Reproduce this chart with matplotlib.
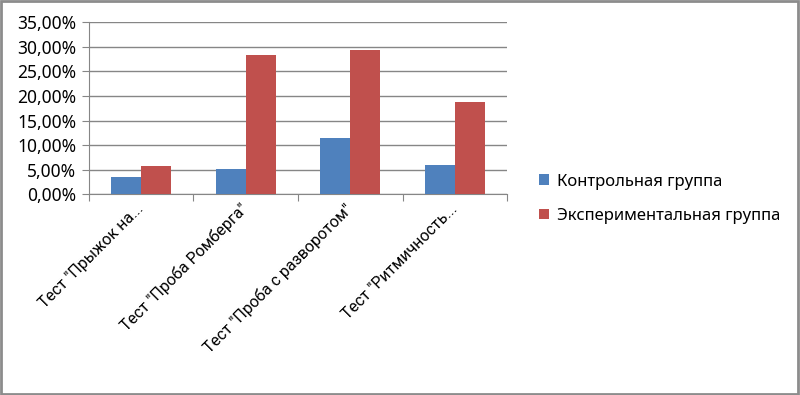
import matplotlib.pyplot as plt
import numpy as np
from matplotlib.patches import Rectangle
from matplotlib.ticker import FuncFormatter, FixedLocator

categories = ['Тест "Прыжок на...', 'Тест "Проба Ромберга"',
              'Тест "Проба с разворотом"', 'Тест "Ритмичность...']
control = [3.6, 5.2, 11.5, 6.0]          # Контрольная группа, %
experimental = [5.8, 28.4, 29.4, 18.7]   # Экспериментальная группа, %
series_names = ['Контрольная группа', 'Экспериментальная группа']

plt.rcParams['font.family'] = ['Noto Sans', 'DejaVu Sans']

fig = plt.figure(figsize=(8, 3.95), dpi=100)
ax = fig.add_axes([0.111, 0.5076, 0.523, 0.4367])

x = np.arange(len(categories))
w = 0.2857
ax.bar(x - w / 2, control, w, color='#4F81BD', label=series_names[0], zorder=3)
ax.bar(x + w / 2, experimental, w, color='#C0504D', label=series_names[1], zorder=3)

ax.set_xlim(-0.5, len(categories) - 0.5)
ax.set_ylim(0, 35)
ax.set_yticks(np.arange(0, 36, 5))
ax.yaxis.set_major_formatter(FuncFormatter(lambda v, p: f'{v:.2f}%'.replace('.', ',')))
ax.yaxis.grid(True, color='#868686', linewidth=1, zorder=0)
ax.tick_params(axis='y', length=5, color='#868686', labelsize=12.5, pad=4)

ax.xaxis.set_major_locator(FixedLocator(np.arange(-0.5, len(categories))))
ax.set_xticklabels([])
ax.tick_params(axis='x', length=5, color='#868686')
for i, lab in enumerate(categories):
    ax.text(i + 0.0, -2.4, lab, rotation=45, rotation_mode='anchor',
            ha='right', va='center', fontsize=11.5, family=['Roboto', 'DejaVu Sans'])

for s in ['top', 'right']:
    ax.spines[s].set_visible(False)
for s in ['left', 'bottom']:
    ax.spines[s].set_color('#868686')

ax.legend(loc='center left', bbox_to_anchor=(1.04, -0.025), frameon=False,
          fontsize=12, handlelength=0.6, handleheight=0.6, handletextpad=0.5,
          labelspacing=1.1)

fig.patches.append(Rectangle((0.001, 0.002), 0.997, 0.995, transform=fig.transFigure,
                             fill=False, edgecolor='#8c8c8c', linewidth=2))

fig.savefig('out.png', dpi=100)
